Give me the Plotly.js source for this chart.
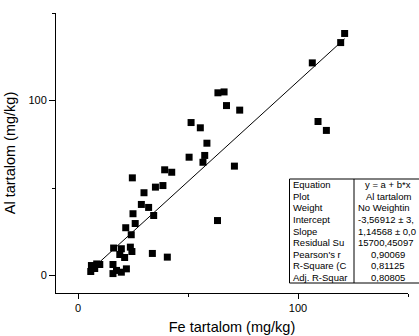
<!DOCTYPE html>
<html><head><meta charset="utf-8">
<script src="https://cdn.plot.ly/plotly-3.0.1.min.js"></script>
<style>html,body{margin:0;padding:0;background:#fff}#chart{width:419px;height:336px}</style>
</head><body><div id="chart"></div>
<script>
// Data
const feValues = [121.2,119.4,106.5,109.1,112.9,63.6,66.4,67.5,73.5,51.4,55.6,58.6,50.5,57.6,56.8,71.1,39.4,42.6,24.7,35.2,38.6,30.0,28.8,32.1,25.0,34.4,26.0,21.7,24.2,63.4,33.8,40.6,16.2,19.7,23.8,24.5,19.0,21.2,15.9,17.5,19.7,22.0,15.9,6.1,8.5,5.8,7.6,9.9];
const alValues = [138.3,133.1,121.5,88.0,82.9,104.4,104.9,97.1,94.5,87.4,84.4,75.6,67.6,68.6,64.7,62.5,60.4,59.0,55.8,50.5,51.4,47.3,40.6,38.9,35.3,34.3,29.7,27.3,23.3,31.4,12.6,10.5,15.7,15.3,16.2,13.7,12.0,10.3,6.3,2.9,1.9,3.8,1.1,5.7,6.6,2.3,4.0,6.3];
const fitIntercept = -3.56912;
const fitSlope = 1.14568;
const tableLabels = ["Equation","Plot","Weight","Intercept","Slope","Residual Su","Pearson's r","R-Square (C","Adj. R-Squar"];
const tableValues = ["y = a + b*x","Al tartalom","No Weightin","-3,56912 ± 3,","1,14568 ± 0,0","15700,45097","0,90069","0,81125","0,80805"];
const xTitle = "Fe tartalom (mg/kg)";
const yTitle = "Al tartalom (mg/kg)";

// Layout geometry
const W = 419, H = 336;
const M = {l:56, r:11, t:13, b:43};
const pw = W - M.l - M.r, ph = H - M.t - M.b;
const px2paperX = p => (p - M.l) / pw;
const px2paperY = p => (H - M.b - p) / ph;

const xMin = Math.min(...feValues), xMax = Math.max(...feValues);
const fitX = [xMin, xMax];
const fitY = fitX.map(x => fitIntercept + fitSlope * x);

const FONT = "Arial, 'Liberation Sans', sans-serif";

const traces = [
  {x: fitX, y: fitY, mode: 'lines', line: {color: '#000', width: 1}, hoverinfo: 'skip', showlegend: false},
  {x: feValues, y: alValues, mode: 'markers', marker: {symbol: 'square', size: 7, color: '#000'}, showlegend: false}
];

// table
const tTop = 179, tBot = 283, tLeft = 289.5, tDiv = 354, tRight = 430;
const rowH = (tBot - tTop) / tableLabels.length;
const leftAlignedValues = [false,false,true,true,true,true,false,false,false];
const shapes = [
  {type:'rect', xref:'paper', yref:'paper', x0:px2paperX(tLeft), x1:px2paperX(tRight), y0:px2paperY(tBot), y1:px2paperY(tTop), line:{color:'#000', width:1}, fillcolor:'#fff', layer:'above'},
  {type:'line', xref:'paper', yref:'paper', x0:px2paperX(tDiv), x1:px2paperX(tDiv), y0:px2paperY(tBot), y1:px2paperY(tTop), line:{color:'#000', width:1}, layer:'above'}
];
const annotations = [];
tableLabels.forEach((lab, i) => {
  const yc = px2paperY(tTop + rowH * (i + 0.5));
  annotations.push({xref:'paper', yref:'paper', x:px2paperX(tLeft + 1), y:yc, xanchor:'left', yanchor:'middle', text:lab, showarrow:false, font:{family:FONT, size:9.5, color:'#000'}});
  const la = leftAlignedValues[i];
  annotations.push({xref:'paper', yref:'paper', x:px2paperX(la ? tDiv + 1.5 : 388), y:yc, xanchor:la ? 'left' : 'center', yanchor:'middle', text:tableValues[i], showarrow:false, font:{family:FONT, size:9.5, color:'#000'}});
});

const axisCommon = {
  showline: true, linecolor: '#000', linewidth: 1, mirror: false,
  showgrid: false, zeroline: false,
  ticks: 'outside', ticklen: 5, tickwidth: 1, tickcolor: '#000',
  tick0: 0, dtick: 100,
  minor: {ticks: 'outside', dtick: 50, tick0: 0, ticklen: 3, tickwidth: 1, tickcolor: '#000', showgrid: false},
  tickfont: {family: FONT, size: 11, color: '#000'},
  fixedrange: true
};

const layout = {
  width: W, height: H,
  margin: {l: M.l, r: M.r, t: M.t, b: M.b, pad: 0},
  paper_bgcolor: '#fff', plot_bgcolor: '#fff',
  showlegend: false,
  xaxis: Object.assign({}, axisCommon, {range: [-10, 150], title: {text: xTitle, font: {family: FONT, size: 14.5, color: '#000'}, standoff: 8}}),
  yaxis: Object.assign({}, axisCommon, {range: [-10, 150], ticklen: 6, title: {text: yTitle, font: {family: FONT, size: 14.5, color: '#000'}, standoff: 9}}),
  shapes: shapes,
  annotations: annotations
};

Plotly.newPlot('chart', traces, layout, {displayModeBar: false, staticPlot: true});
</script>
</body></html>
